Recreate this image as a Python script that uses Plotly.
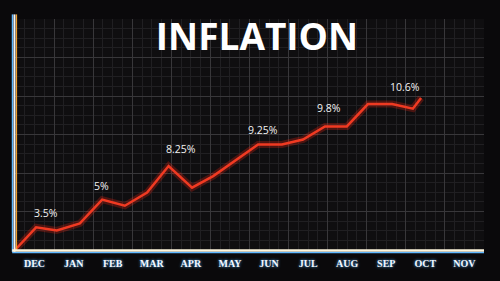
import plotly.graph_objects as go

# ---- data ----
months = ["DEC", "JAN", "FEB", "MAR", "APR", "MAY", "JUN", "JUL", "AUG", "SEP", "OCT", "NOV"]
line_x = [0, 0.54, 1.07, 1.66, 2.23, 2.81, 3.38, 3.93, 4.53, 5.07, 6.22, 6.83, 7.37, 7.93, 8.49, 9.03, 9.65, 10.18, 10.39]
line_y = [0, 0.59, 0.51, 0.69, 1.31, 1.15, 1.49, 2.18, 1.62, 1.92, 2.74, 2.74, 2.87, 3.21, 3.21, 3.79, 3.79, 3.67, 3.95]
label_text = ["3.5%", "5%", "8.25%", "9.25%", "9.8%", "10.6%"]
label_point = [1, 4, 7, 10, 13, 16]
title_text = "INFLATION"

fig = go.Figure()

# glow under the line
fig.add_trace(go.Scatter(x=line_x, y=line_y, mode="lines",
                         line=dict(color="rgba(255,40,20,0.25)", width=7),
                         hoverinfo="skip", showlegend=False))
fig.add_trace(go.Scatter(x=line_x, y=line_y, mode="lines",
                         line=dict(color="#f03a22", width=2.5),
                         showlegend=False))
# invisible trace to carry the month axis
fig.add_trace(go.Scatter(x=[0, 12], y=[0, 0], xaxis="x2", mode="markers",
                         marker=dict(opacity=0), hoverinfo="skip", showlegend=False))

offsets = {1: (10, 14), 4: (-1, 14), 7: (12, 17), 10: (5, 15), 13: (4, 18), 16: (13, 17)}
for txt, idx in zip(label_text, label_point):
    dx, dy = offsets[idx]
    fig.add_annotation(x=line_x[idx], y=line_y[idx], text=txt, showarrow=False,
                       xshift=dx, yshift=dy,
                       font=dict(family="Open Sans", size=10.5, color="#f2f2f2"))

# axis glow shapes (paper-referenced so they are not clipped)
fig.add_shape(type="line", xref="paper", yref="paper", xsizemode="pixel", xanchor=0,
              x0=-2.5, x1=-2.5, y0=-0.008, y1=1.02, line=dict(color="#5fb8ff", width=1.5), layer="above")
fig.add_shape(type="line", xref="paper", yref="paper", xsizemode="pixel", xanchor=0,
              x0=1.5, x1=1.5, y0=0, y1=1.02, line=dict(color="#f0a030", width=1.2), layer="above")
fig.add_shape(type="line", xref="paper", yref="paper", xsizemode="pixel", xanchor=0,
              x0=-0.5, x1=-0.5, y0=-0.008, y1=1.02, line=dict(color="#f4f4f4", width=2), layer="above")
fig.add_shape(type="line", xref="paper", yref="paper", ysizemode="pixel", yanchor=0,
              x0=-0.006, x1=1, y0=-2.5, y1=-2.5, line=dict(color="#5fb8ff", width=1.5), layer="above")
fig.add_shape(type="line", xref="paper", yref="paper", ysizemode="pixel", yanchor=0,
              x0=-0.006, x1=1, y0=-0.5, y1=-0.5, line=dict(color="#fff6dc", width=2.5), layer="above")

fig.update_layout(
    width=500, height=281,
    margin=dict(l=15, r=16, t=19, b=28),
    paper_bgcolor="#0a090b",
    plot_bgcolor="#0f0e10",
    title=dict(text=title_text, x=0.514, xanchor="center", y=1 - 37 / 281, yanchor="middle",
               yref="container",
               font=dict(family="Open Sans", size=37, color="#ffffff", weight=700)),
    xaxis=dict(range=[0, 12], tickmode="linear", tick0=0, dtick=1, showticklabels=False,
               showgrid=True, gridcolor="#38373a", gridwidth=1, zeroline=False,
               ticks="", showline=False,
               minor=dict(tick0=0, dtick=0.25, showgrid=True, gridcolor="#201f22", gridwidth=1)),
    xaxis2=dict(range=[0, 12], overlaying="x", anchor="y", side="bottom",
                tickmode="array", tickvals=[i + 0.5 for i in range(len(months))],
                ticktext=months, showgrid=False, zeroline=False, ticks="",
                ticklabelstandoff=6,
                tickfont=dict(family="Liberation Serif", size=10, color="#f4f8ff", weight=700,
                              shadow="0px 0px 3px #4fb0ff")),
    yaxis=dict(range=[0, 6], tickmode="linear", tick0=0, dtick=1, showticklabels=False,
               showgrid=True, gridcolor="#38373a", gridwidth=1, zeroline=False, ticks="",
               showline=False,
               minor=dict(tick0=0, dtick=0.25, showgrid=True, gridcolor="#201f22", gridwidth=1)),
)

fig.write_html("out.html")
